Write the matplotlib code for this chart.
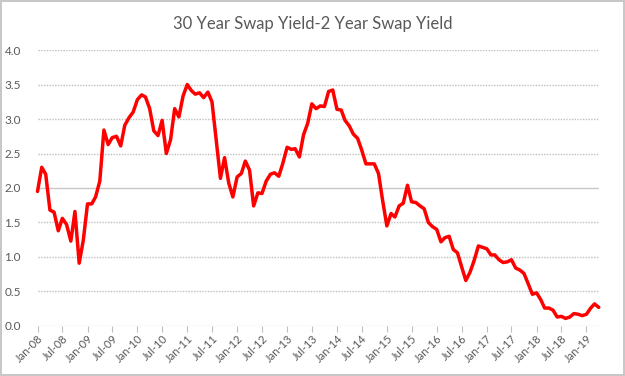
import pandas as pd
import matplotlib
matplotlib.use("Agg")
import matplotlib.pyplot as plt
import matplotlib.dates as mdates

# ---------------------------
# Data (monthly, Jan-08 .. Apr-19)
# ---------------------------
start_month = "2008-01-01"
spread = [
    1.95, 2.30, 2.20, 1.68, 1.65, 1.38, 1.56, 1.47, 1.23, 1.66, 0.91, 1.24,
    1.77, 1.77, 1.87, 2.10, 2.84, 2.63, 2.73, 2.75, 2.61, 2.91, 3.02, 3.10,
    3.28, 3.35, 3.32, 3.15, 2.83, 2.76, 2.98, 2.50, 2.70, 3.15, 3.03, 3.33,
    3.50, 3.41, 3.36, 3.38, 3.31, 3.39, 3.25, 2.70, 2.14, 2.44, 2.07, 1.87,
    2.16, 2.21, 2.39, 2.26, 1.74, 1.93, 1.92, 2.10, 2.20, 2.22, 2.17, 2.36,
    2.59, 2.56, 2.57, 2.45, 2.77, 2.94, 3.22, 3.15, 3.19, 3.18, 3.40, 3.42,
    3.14, 3.13, 2.98, 2.90, 2.78, 2.72, 2.55, 2.35, 2.35, 2.35, 2.21, 1.82,
    1.45, 1.63, 1.58, 1.74, 1.78, 2.04, 1.80, 1.79, 1.74, 1.70, 1.50, 1.44,
    1.40, 1.22, 1.28, 1.30, 1.11, 1.06, 0.86, 0.66, 0.78, 0.95, 1.16, 1.14,
    1.12, 1.03, 1.03, 0.96, 0.92, 0.93, 0.96, 0.84, 0.81, 0.76, 0.61, 0.46,
    0.48, 0.38, 0.26, 0.26, 0.23, 0.13, 0.14, 0.11, 0.13, 0.18, 0.17, 0.15,
    0.17, 0.26, 0.32, 0.27,
]
dates = pd.date_range(start_month, periods=len(spread), freq="MS")
y_ticks = [0.0, 0.5, 1.0, 1.5, 2.0, 2.5, 3.0, 3.5, 4.0]

title = "30 Year Swap Yield-2 Year Swap Yield"
grey = "#595959"

# ---------------------------
# Figure
# ---------------------------
plt.rcParams["font.family"] = ["Lato", "DejaVu Sans"]

fig = plt.figure(figsize=(6.25, 3.76), dpi=100)
fig.patch.set_edgecolor("#c8c8c8")
fig.patch.set_linewidth(1.5)
ax = fig.add_axes([0.06, 0.133, 0.898, 0.734])

ax.plot(dates, spread, color="#ff0000", linewidth=2.5, solid_joinstyle="round",
        solid_capstyle="round", zorder=3, clip_on=False)

ax.set_ylim(0, 4.0)
ax.set_yticks(y_ticks)
ax.set_yticklabels([f"{v:.1f}" for v in y_ticks])
ax.set_xlim(dates[0], dates[-1])

ax.xaxis.set_major_locator(mdates.MonthLocator(bymonth=[1, 7]))
ax.xaxis.set_major_formatter(mdates.DateFormatter("%b-%y"))

for v in y_ticks:
    if v == 2.0:
        ax.axhline(v, color="#c8c8c8", linewidth=1.0, zorder=1)
    else:
        ax.axhline(v, color="#bfbfbf", linewidth=1.0, linestyle=(0, (1, 1)), zorder=1)

for side in ["top", "right", "left", "bottom"]:
    ax.spines[side].set_visible(False)

ax.tick_params(axis="y", length=0, labelsize=8.5, labelcolor=grey, pad=12)
ax.tick_params(axis="x", length=4, color="#bfbfbf", labelsize=8, labelcolor=grey, pad=1)
for lab in ax.get_xticklabels():
    lab.set_rotation(45)
    lab.set_ha("right")
    lab.set_rotation_mode("anchor")

fig.text(0.5, 0.935, title, ha="center", va="center", fontsize=12, color=grey)

fig.savefig("out.png", dpi=100, edgecolor=fig.get_edgecolor())
